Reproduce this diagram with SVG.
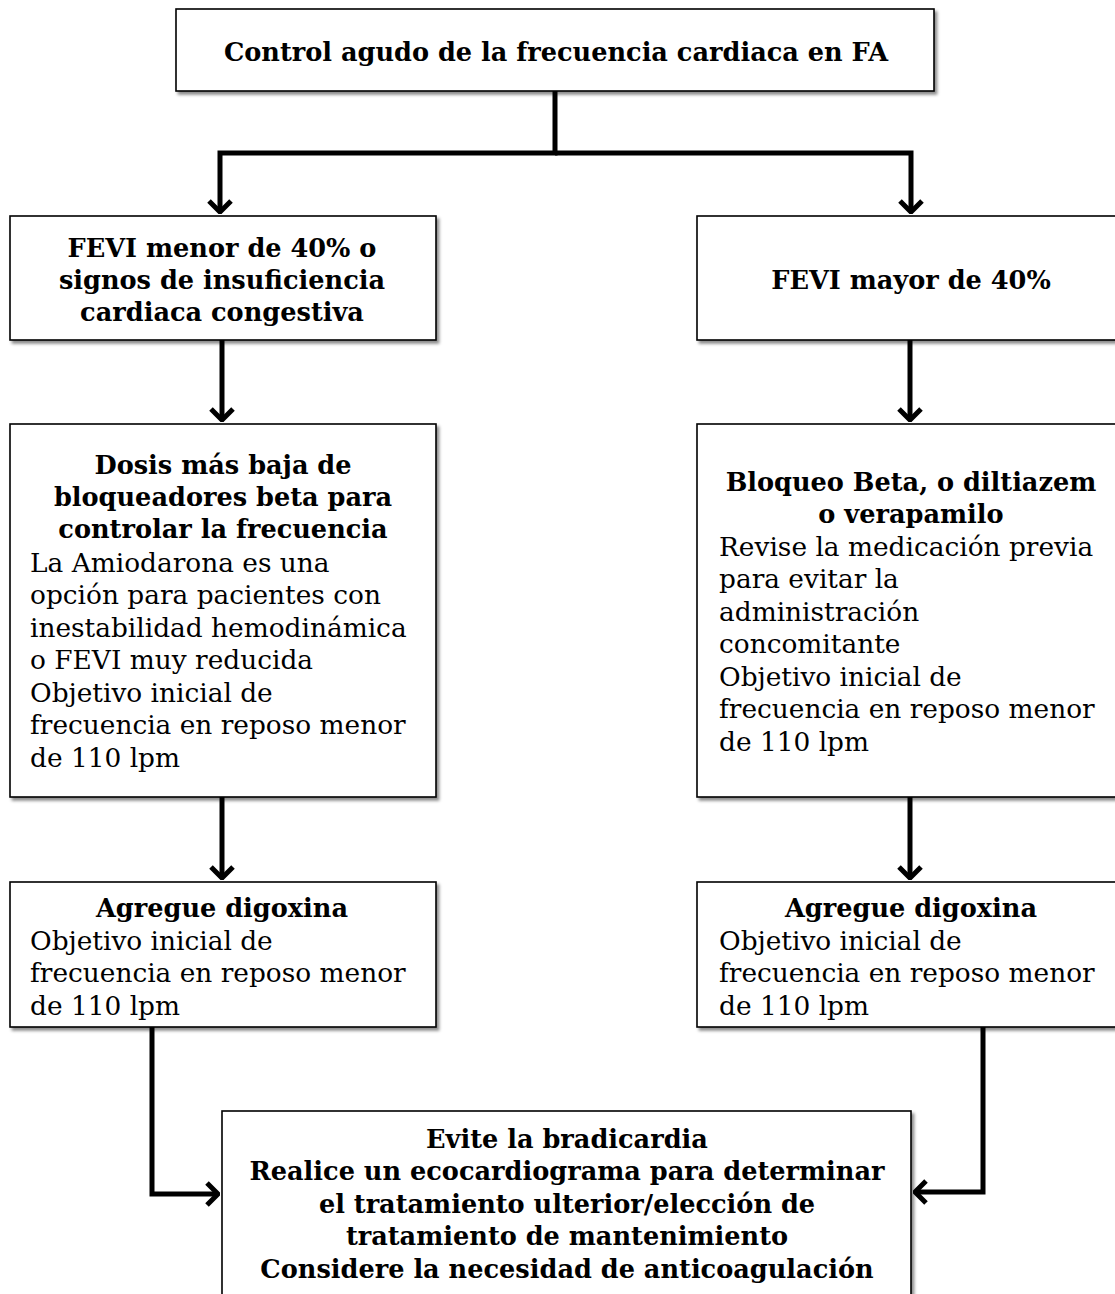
<svg xmlns="http://www.w3.org/2000/svg" width="1115" height="1294" viewBox="0 0 1115 1294">
<style>
.box{fill:#fff;stroke:#000;stroke-width:1.6}
.b{font-family:"DejaVu Serif","Liberation Serif",serif;font-weight:bold;font-size:25.6px;fill:#000;text-anchor:middle}
.n{font-family:"DejaVu Serif","Liberation Serif",serif;font-size:26.4px;fill:#000}
.c{fill:none;stroke:#000;stroke-width:5}
</style>
<defs>
<filter id="sh" x="-5%" y="-5%" width="115%" height="115%">
<feDropShadow dx="2.5" dy="3" stdDeviation="1.8" flood-color="#000" flood-opacity="0.45"/>
</filter>
<marker id="arr" viewBox="-14 -14 16 28" markerWidth="16" markerHeight="28" refX="0" refY="0" orient="auto" markerUnits="userSpaceOnUse">
<path d="M-11,-11 L0,0 L-11,11" fill="none" stroke="#000" stroke-width="5"/>
</marker>
</defs>
<g id="connectors">
<path class="c" d="M555,91 V153 H220 V212" marker-end="url(#arr)"/>
<path class="c" d="M555,153 H911 V212" marker-end="url(#arr)"/>
<path class="c" d="M222,340 V420" marker-end="url(#arr)"/>
<path class="c" d="M910,340 V420" marker-end="url(#arr)"/>
<path class="c" d="M222,797 V878" marker-end="url(#arr)"/>
<path class="c" d="M910,797 V878" marker-end="url(#arr)"/>
<path class="c" d="M152,1027 V1194 H218" marker-end="url(#arr)"/>
<path class="c" d="M983,1027 V1192 H915" marker-end="url(#arr)"/>
</g>
<g id="n1">
<rect class="box" x="176" y="9" width="758" height="82" filter="url(#sh)"/>
<text class="b" x="556" y="61">Control agudo de la frecuencia cardiaca en FA</text>
</g>
<g id="n2">
<rect class="box" x="10" y="216" width="426" height="124" filter="url(#sh)"/>
<text class="b" x="222" y="257">FEVI menor de 40% o</text>
<text class="b" x="222" y="289">signos de insuficiencia</text>
<text class="b" x="222" y="321">cardiaca congestiva</text>
</g>
<g id="n3">
<rect class="box" x="697" y="216" width="430" height="124" filter="url(#sh)"/>
<text class="b" x="911" y="289">FEVI mayor de 40%</text>
</g>
<g id="n4">
<rect class="box" x="10" y="424" width="426" height="373" filter="url(#sh)"/>
<text class="b" x="223" y="474">Dosis más baja de</text>
<text class="b" x="223" y="506">bloqueadores beta para</text>
<text class="b" x="223" y="538">controlar la frecuencia</text>
<text class="n" x="30" y="572">La Amiodarona es una</text>
<text class="n" x="30" y="604">opción para pacientes con</text>
<text class="n" x="30" y="637">inestabilidad hemodinámica</text>
<text class="n" x="30" y="669">o FEVI muy reducida</text>
<text class="n" x="30" y="702">Objetivo inicial de</text>
<text class="n" x="30" y="734">frecuencia en reposo menor</text>
<text class="n" x="30" y="767">de 110 lpm</text>
</g>
<g id="n5">
<rect class="box" x="697" y="424" width="430" height="373" filter="url(#sh)"/>
<text class="b" x="911" y="491">Bloqueo Beta, o diltiazem</text>
<text class="b" x="911" y="523">o verapamilo</text>
<text class="n" x="719" y="556">Revise la medicación previa</text>
<text class="n" x="719" y="588">para evitar la</text>
<text class="n" x="719" y="621">administración</text>
<text class="n" x="719" y="653">concomitante</text>
<text class="n" x="719" y="686">Objetivo inicial de</text>
<text class="n" x="719" y="718">frecuencia en reposo menor</text>
<text class="n" x="719" y="751">de 110 lpm</text>
</g>
<g id="n6">
<rect class="box" x="10" y="882" width="426" height="145" filter="url(#sh)"/>
<text class="b" x="222" y="917">Agregue digoxina</text>
<text class="n" x="30" y="950">Objetivo inicial de</text>
<text class="n" x="30" y="982">frecuencia en reposo menor</text>
<text class="n" x="30" y="1015">de 110 lpm</text>
</g>
<g id="n7">
<rect class="box" x="697" y="882" width="430" height="145" filter="url(#sh)"/>
<text class="b" x="911" y="917">Agregue digoxina</text>
<text class="n" x="719" y="950">Objetivo inicial de</text>
<text class="n" x="719" y="982">frecuencia en reposo menor</text>
<text class="n" x="719" y="1015">de 110 lpm</text>
</g>
<g id="n8">
<rect class="box" x="222" y="1111" width="689" height="200" filter="url(#sh)"/>
<text class="b" x="567" y="1148">Evite la bradicardia</text>
<text class="b" x="567" y="1180">Realice un ecocardiograma para determinar</text>
<text class="b" x="567" y="1213">el tratamiento ulterior/elección de</text>
<text class="b" x="567" y="1245">tratamiento de mantenimiento</text>
<text class="b" x="567" y="1278">Considere la necesidad de anticoagulación</text>
</g>
</svg>
